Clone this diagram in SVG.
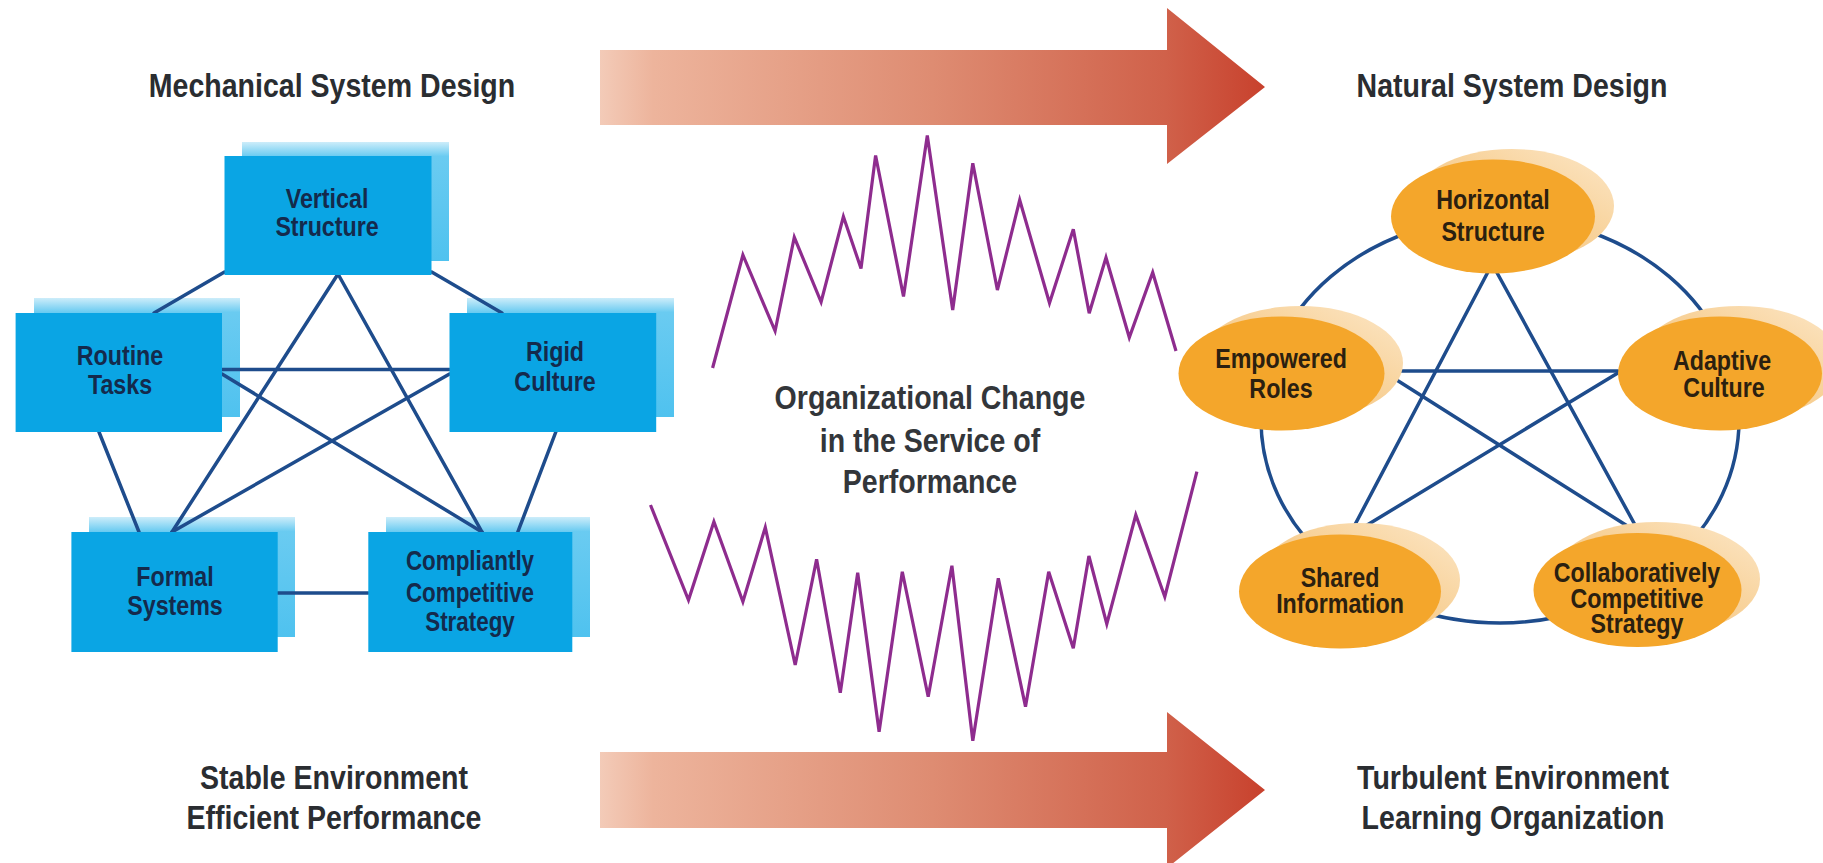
<svg xmlns="http://www.w3.org/2000/svg" width="1823" height="863" viewBox="0 0 1823 863">
<defs>
<linearGradient id="arrowGrad" gradientUnits="userSpaceOnUse" x1="600" y1="0" x2="1265" y2="0">
<stop offset="0" stop-color="#F3CBB8"/>
<stop offset="0.08" stop-color="#EDB49C"/>
<stop offset="0.5" stop-color="#DE8C72"/>
<stop offset="0.85" stop-color="#D0614A"/>
<stop offset="1" stop-color="#C8412D"/>
</linearGradient>
<linearGradient id="boxShadow" x1="0" y1="0" x2="0" y2="1">
<stop offset="0" stop-color="#CDEDFA"/>
<stop offset="0.12" stop-color="#6ACBF1"/>
<stop offset="1" stop-color="#4FC2EF"/>
</linearGradient>
<linearGradient id="ellShadow" x1="0" y1="1" x2="1" y2="0">
<stop offset="0" stop-color="#F4BC68"/>
<stop offset="0.6" stop-color="#F8D39C"/>
<stop offset="1" stop-color="#FCE7C8"/>
</linearGradient>
<style>
text{font-family:"Liberation Sans",Arial,sans-serif;font-weight:bold;text-anchor:middle}
.title{font-size:34px;fill:#2A2D31}
.ctr{font-size:34px;fill:#33363A}
.bt{font-size:28px;fill:#142A4C}
.et{font-size:28px;fill:#2B2010}
.front{fill:#0AA5E4}
.shadow{fill:url(#boxShadow)}
.efront{fill:#F4A62B}
.eshadow{fill:url(#ellShadow)}
.link{stroke:#1E4C8C;stroke-width:3.5;fill:none;stroke-linecap:round}
.zig{stroke:#8E2C8E;stroke-width:3.2;fill:none;stroke-linejoin:miter}
.arrow{fill:url(#arrowGrad)}
</style>
</defs>
<rect x="0" y="0" width="1823" height="863" fill="#FFFFFF"/>

<!-- arrows -->
<g id="arrow-top"><path class="arrow" d="M600,50 L1167,50 L1167,8 L1265,87 L1167,164 L1167,125 L600,125 Z"/></g>
<g id="arrow-bottom"><path class="arrow" d="M600,752 L1167,752 L1167,712 L1265,790 L1167,868 L1167,828 L600,828 Z"/></g>

<!-- zigzags -->
<g id="zigzag-top"><polyline class="zig" points="712.6,368 742.9,255 775.1,331 794.3,237.3 821.1,302 843.4,216.5 861,268.5 875.6,155.5 903.5,296.5 927.3,135.5 952.7,310 972.8,163.3 997.4,290 1019.7,200 1049.5,303 1073.3,229.3 1089.2,313.3 1106,257.5 1129.3,337.5 1152.7,272.5 1176,351"/></g>
<g id="zigzag-bottom"><polyline class="zig" points="650.5,505 688.5,600 713.9,521.7 742.9,601.7 765.3,527.3 795.2,665 816.6,559.3 840.3,692.7 857.7,572.7 879.1,731.7 902.3,571.7 928.2,696.7 951.9,565.7 972.8,740.7 998.3,578.3 1025.5,706.7 1048.7,571.7 1073.3,648.3 1088.9,556 1106.8,624 1135.8,515 1164.8,596.7 1196.9,471.7"/></g>

<!-- labels -->
<g id="labels">
<text class="title" transform="translate(332,97) scale(0.84,1)">Mechanical System Design</text>
<text class="title" transform="translate(1512,97) scale(0.84,1)">Natural System Design</text>
<text class="title" transform="translate(334,789) scale(0.84,1)">Stable Environment</text>
<text class="title" transform="translate(334,829) scale(0.84,1)">Efficient Performance</text>
<text class="title" transform="translate(1513,789) scale(0.84,1)">Turbulent Environment</text>
<text class="title" transform="translate(1513,829) scale(0.84,1)">Learning Organization</text>
<text class="ctr" transform="translate(930,409) scale(0.84,1)">Organizational Change</text>
<text class="ctr" transform="translate(930,452) scale(0.84,1)">in the Service of</text>
<text class="ctr" transform="translate(930,493) scale(0.84,1)">Performance</text>
</g>

<!-- left shadows -->
<g id="left-shadows">
<rect class="shadow" x="242" y="142" width="207" height="119"/>
<rect class="shadow" x="34" y="298" width="206" height="119"/>
<rect class="shadow" x="467" y="298" width="207" height="119"/>
<rect class="shadow" x="89" y="517" width="206" height="120"/>
<rect class="shadow" x="386" y="517" width="204" height="120"/>
</g>

<!-- left connectors -->
<g id="left-connectors">
<line class="link" x1="224.5" y1="272" x2="154" y2="313"/>
<line class="link" x1="431.7" y1="272" x2="502" y2="313"/>
<line class="link" x1="99" y1="432" x2="139" y2="532"/>
<line class="link" x1="555.8" y1="432" x2="517.8" y2="532"/>
<line class="link" x1="277.7" y1="593" x2="368.3" y2="593"/>
<line class="link" x1="338" y1="274" x2="172" y2="532"/>
<line class="link" x1="338" y1="274" x2="482" y2="532"/>
<line class="link" x1="222" y1="369.5" x2="449.5" y2="369.5"/>
<line class="link" x1="222" y1="374" x2="482" y2="532"/>
<line class="link" x1="449.5" y1="374" x2="172" y2="532"/>
</g>

<!-- left nodes -->
<g id="node-vertical-structure">
<rect class="front" x="224.5" y="156" width="207" height="119"/>
<text class="bt" transform="translate(327,208) scale(0.83,1)">Vertical</text>
<text class="bt" transform="translate(327,236) scale(0.83,1)">Structure</text>
</g>
<g id="node-routine-tasks">
<rect class="front" x="15.6" y="313" width="206.4" height="119"/>
<text class="bt" transform="translate(120,365) scale(0.83,1)">Routine</text>
<text class="bt" transform="translate(120,394) scale(0.83,1)">Tasks</text>
</g>
<g id="node-rigid-culture">
<rect class="front" x="449.5" y="313" width="206.7" height="119"/>
<text class="bt" transform="translate(555,361) scale(0.83,1)">Rigid</text>
<text class="bt" transform="translate(555,391) scale(0.83,1)">Culture</text>
</g>
<g id="node-formal-systems">
<rect class="front" x="71.4" y="532" width="206.3" height="120"/>
<text class="bt" transform="translate(175,586) scale(0.83,1)">Formal</text>
<text class="bt" transform="translate(175,615) scale(0.83,1)">Systems</text>
</g>
<g id="node-compliantly">
<rect class="front" x="368.3" y="532" width="204" height="120"/>
<text class="bt" transform="translate(470,570) scale(0.8,1)">Compliantly</text>
<text class="bt" transform="translate(470,602) scale(0.8,1)">Competitive</text>
<text class="bt" transform="translate(470,631) scale(0.8,1)">Strategy</text>
</g>

<!-- right connectors -->
<g id="right-connectors">
<ellipse class="link" cx="1500" cy="420" rx="239" ry="203"/>
<line class="link" x1="1489" y1="270" x2="1349" y2="536"/>
<line class="link" x1="1495.5" y1="270" x2="1640" y2="534"/>
<line class="link" x1="1386" y1="371" x2="1618" y2="371"/>
<line class="link" x1="1388" y1="374.5" x2="1640" y2="534"/>
<line class="link" x1="1617" y1="373.5" x2="1349" y2="536"/>
</g>

<!-- right shadows -->
<g id="right-shadows">
<ellipse class="eshadow" cx="1512" cy="206" rx="102" ry="57"/>
<ellipse class="eshadow" cx="1300" cy="363" rx="103" ry="57"/>
<ellipse class="eshadow" cx="1739" cy="363" rx="102" ry="57"/>
<ellipse class="eshadow" cx="1359" cy="580" rx="101" ry="57"/>
<ellipse class="eshadow" cx="1656" cy="579" rx="104" ry="57"/>
</g>

<!-- right nodes -->
<g id="node-horizontal-structure">
<ellipse class="efront" cx="1493" cy="216.5" rx="102" ry="57"/>
<text class="et" transform="translate(1493,209) scale(0.83,1)">Horizontal</text>
<text class="et" transform="translate(1493,241) scale(0.83,1)">Structure</text>
</g>
<g id="node-empowered-roles">
<ellipse class="efront" cx="1281.5" cy="373.5" rx="103" ry="57"/>
<text class="et" transform="translate(1281,368) scale(0.83,1)">Empowered</text>
<text class="et" transform="translate(1281,398) scale(0.83,1)">Roles</text>
</g>
<g id="node-adaptive-culture">
<ellipse class="efront" cx="1720" cy="373.5" rx="102" ry="57"/>
<text class="et" transform="translate(1722,370) scale(0.83,1)">Adaptive</text>
<text class="et" transform="translate(1724,397) scale(0.83,1)">Culture</text>
</g>
<g id="node-shared-information">
<ellipse class="efront" cx="1340" cy="591.5" rx="101" ry="57"/>
<text class="et" transform="translate(1340,587) scale(0.83,1)">Shared</text>
<text class="et" transform="translate(1340,613) scale(0.83,1)">Information</text>
</g>
<g id="node-collaboratively">
<ellipse class="efront" cx="1637.5" cy="590" rx="104" ry="57"/>
<text class="et" transform="translate(1637,582) scale(0.83,1)">Collaboratively</text>
<text class="et" transform="translate(1637,608) scale(0.83,1)">Competitive</text>
<text class="et" transform="translate(1637,633) scale(0.83,1)">Strategy</text>
</g>
</svg>
